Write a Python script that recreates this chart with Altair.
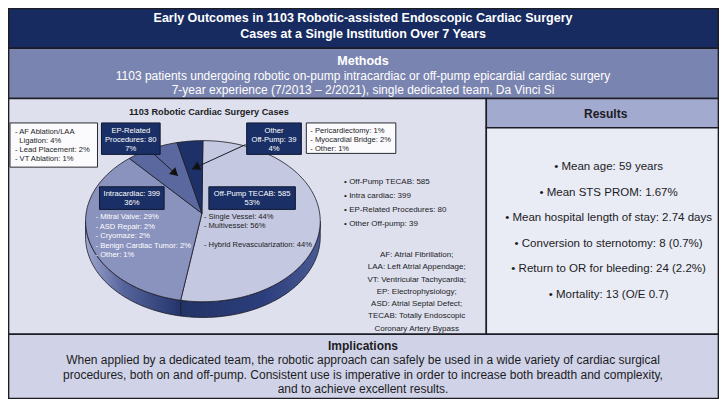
import math
import altair as alt
import pandas as pd

# ---------------- data ----------------
title_lines = ["Early Outcomes in 1103 Robotic-assisted Endoscopic Cardiac Surgery",
               "Cases at a Single Institution Over 7 Years"]
methods_head = "Methods"
methods_lines = ["1103 patients undergoing robotic on-pump intracardiac or off-pump epicardial cardiac surgery",
                 "7-year experience (7/2013 \u2013 2/2021), single dedicated team, Da Vinci Si"]
pie_title = "1103 Robotic Cardiac Surgery Cases"
categories = ["Off-Pump TECAB", "Intracardiac", "EP-Related Procedures", "Other Off-Pump"]
counts = [585, 399, 80, 39]
percents = [53, 36, 7, 4]
bullet_labels = ["Off-Pump TECAB", "Intra cardiac", "EP-Related Procedures", "Other Off-pump"]
ep_breakdown = ["- AF Ablation/LAA", "  Ligation: 4%", "- Lead Placement: 2%", "- VT Ablation: 1%"]
other_breakdown = ["- Pericardiectomy: 1%", "- Myocardial Bridge: 2%", "- Other: 1%"]
intra_breakdown = ["- Mitral Valve: 29%", "- ASD Repair: 2%", "- Cryomaze: 2%",
                   "- Benign Cardiac Tumor: 2%", "- Other: 1%"]
tecab_breakdown = ["- Single Vessel: 44%", "- Multivessel: 56%", "", "- Hybrid Revascularization: 44%"]
abbreviations = ["AF: Atrial Fibrillation;", "LAA: Left Atrial Appendage;", "VT: Ventricular Tachycardia;",
                 "EP: Electrophysiology;", "ASD: Atrial Septal Defect;", "TECAB: Totally Endoscopic",
                 "Coronary Artery Bypass"]
results_head = "Results"
results = ["Mean age: 59 years", "Mean STS PROM: 1.67%", "Mean hospital length of stay: 2.74 days",
           "Conversion to sternotomy: 8 (0.7%)", "Return to OR for bleeding: 24 (2.2%)",
           "Mortality: 13 (O/E 0.7)"]
impl_head = "Implications"
impl_lines = ["When applied by a dedicated team, the robotic approach can safely be used in a wide variety of cardiac surgical",
              "procedures, both on and off-pump. Consistent use is imperative in order to increase both breadth and complexity,",
              "and to achieve excellent results."]

# ---------------- layout / style ----------------
W, H = 711, 391
X0, X1, Y0, Y1 = 6, 721, 6, 404          # visible window of the 727x407 layout
FONT = "Liberation Sans, Arial, sans-serif"
NAVY = "#172b60"
BOXNAVY = "#1a2f66"
DARK = "#1c1c24"
xs = alt.Scale(domain=[X0, X1], range=[0, W], nice=False, zero=False)
ys = alt.Scale(domain=[Y0, Y1], range=[0, H], nice=False, zero=False)
SX, SY = W / (X1 - X0), H / (Y1 - Y0)

panels = pd.DataFrame([
    dict(x=0, x2=727, y=0, y2=47, fill=NAVY),
    dict(x=0, x2=727, y=47, y2=98, fill="#7a84b0"),
    dict(x=0, x2=487, y=98, y2=338, fill="#dee0ee"),
    dict(x=487, x2=727, y=98, y2=128, fill="#a3aacf"),
    dict(x=487, x2=727, y=128, y2=338, fill="#e9ebf5"),
    dict(x=0, x2=727, y=338, y2=407, fill="#d0d3e7"),
])
panel_layer = alt.Chart(panels).mark_rect(stroke=DARK, strokeWidth=1.5).encode(
    x=alt.X("x:Q", scale=xs, axis=None), x2="x2:Q",
    y=alt.Y("y:Q", scale=ys, axis=None), y2="y2:Q",
    fill=alt.Fill("fill:N", scale=None))
frame_layer = alt.Chart(pd.DataFrame([dict(x=X0 + 0.6, x2=X1 - 0.6, y=Y0 + 0.6, y2=Y1 - 0.6)])).mark_rect(
    fill=None, stroke=DARK, strokeWidth=1.5).encode(
    x=alt.X("x:Q", scale=xs, axis=None), x2="x2:Q",
    y=alt.Y("y:Q", scale=ys, axis=None), y2="y2:Q")

# pie geometry
CX, CY, RX, RY = 202, 223, 118, 82
AX, AY = 201, 215
DEPTH = 16
slice_colors = ["#c4c8e0", "#8a92be", "#5a689f", "#1d3168"]


def ell(theta, dy=0.0):
    t = math.radians(theta)
    return CX + RX * math.sin(t), CY - RY * math.cos(t) + dy


total = sum(counts)
bounds = []
start = 0.0
for c in counts:
    end = start + 360.0 * c / total
    bounds.append((start, end))
    start = end

rows = []
for cat, (a0, a1), col in zip(categories, bounds, slice_colors):
    pts = [(AX, AY)]
    n = max(3, int((a1 - a0) / 2) + 1)
    for i in range(n + 1):
        pts.append(ell(a0 + (a1 - a0) * i / n))
    pts.append((AX, AY))
    for k, (px, py) in enumerate(pts):
        rows.append(dict(s=cat, x=px, y=py, o=k, fill=col))
pie_df = pd.DataFrame(rows)


def rim(a0, a1, name):
    r = []
    n = max(3, int((a1 - a0) / 2) + 1)
    pts = [ell(a0 + (a1 - a0) * i / n) for i in range(n + 1)]
    pts += [ell(a1 - (a1 - a0) * i / n, DEPTH) for i in range(n + 1)]
    pts.append(pts[0])
    for k, (px, py) in enumerate(pts):
        r.append(dict(s=name, x=px, y=py, o=k))
    return pd.DataFrame(r)


tecab_end = bounds[0][1]
rim_right = rim(90, tecab_end, "rr")
rim_left = rim(tecab_end, 270, "rl")


def poly_layer(df, fill):
    return alt.Chart(df).mark_line(fill=fill, stroke=DARK, strokeWidth=0.8, strokeJoin="round").encode(
        x=alt.X("x:Q", scale=xs, axis=None), y=alt.Y("y:Q", scale=ys, axis=None),
        order="o:Q", detail="s:N")


rr_layer = poly_layer(rim_right, alt.Gradient(gradient="linear", x1=0, x2=1, y1=0, y2=0, stops=[
    alt.GradientStop(color="#223366", offset=0), alt.GradientStop(color="#2c3e7c", offset=0.6),
    alt.GradientStop(color="#4a5a94", offset=1)]))
rl_layer = poly_layer(rim_left, alt.Gradient(gradient="linear", x1=0, x2=1, y1=0, y2=0, stops=[
    alt.GradientStop(color="#a0a8d0", offset=0), alt.GradientStop(color="#56649b", offset=0.4),
    alt.GradientStop(color="#23346c", offset=1)]))
pie_layer = alt.Chart(pie_df).mark_line(stroke=DARK, strokeWidth=0.8, strokeJoin="round").encode(
    x=alt.X("x:Q", scale=xs, axis=None), y=alt.Y("y:Q", scale=ys, axis=None),
    order="o:Q", detail="s:N", fill=alt.Fill("fill:N", scale=None))

# label boxes
boxes = pd.DataFrame([
    dict(x=100, x2=159, y=123, y2=155, fill=BOXNAVY, stroke="#101830"),
    dict(x=246, x2=301, y=123, y2=155, fill=BOXNAVY, stroke="#101830"),
    dict(x=98, x2=163, y=188, y2=211, fill=BOXNAVY, stroke="#101830"),
    dict(x=208, x2=295, y=188, y2=211, fill=BOXNAVY, stroke="#101830"),
    dict(x=8, x2=96, y=123, y2=168, fill="#fbfbfd", stroke="#2a2a33"),
    dict(x=306, x2=396, y=123, y2=154, fill="#fbfbfd", stroke="#2a2a33"),
])
box_layer = alt.Chart(boxes).mark_rect(strokeWidth=1).encode(
    x=alt.X("x:Q", scale=xs, axis=None), x2="x2:Q",
    y=alt.Y("y:Q", scale=ys, axis=None), y2="y2:Q",
    fill=alt.Fill("fill:N", scale=None), stroke=alt.Stroke("stroke:N", scale=None))

# arrows
arrows = [((153, 155), (177, 177)), ((245, 145), (191, 170))]
arr_rows, head_rows = [], []
for (t0, t1) in arrows:
    arr_rows.append(dict(x=t0[0], y=t0[1], x2=t1[0], y2=t1[1]))
    dxc, dyc = (t1[0] - t0[0]) * SX, (t1[1] - t0[1]) * SY
    ang = math.degrees(math.atan2(dxc, -dyc)) % 360
    L = math.hypot(t1[0] - t0[0], t1[1] - t0[1])
    ux, uy = (t1[0] - t0[0]) / L, (t1[1] - t0[1]) / L
    head_rows.append(dict(x=t1[0] - 4 * ux, y=t1[1] - 4 * uy, a=ang))
arrow_layer = alt.Chart(pd.DataFrame(arr_rows)).mark_rule(color=DARK, strokeWidth=1).encode(
    x=alt.X("x:Q", scale=xs, axis=None), y=alt.Y("y:Q", scale=ys, axis=None), x2="x2:Q", y2="y2:Q")
head_layer = alt.Chart(pd.DataFrame(head_rows)).mark_point(
    shape="triangle-up", filled=True, color="#111", size=85, opacity=1).encode(
    x=alt.X("x:Q", scale=xs, axis=None), y=alt.Y("y:Q", scale=ys, axis=None),
    angle=alt.Angle("a:Q", scale=None))

# texts
T = []


def add(x, y, text, size, color, align="center", bold=False):
    indent = len(text) - len(text.lstrip(" "))
    T.append(dict(x=x + 2.2 * indent, y=y, text=text.lstrip(" "), size=size, color=color,
                  align=align, bold=bold))


SMALL = 7.6
for i, s in enumerate(title_lines):
    add(363, 16 + 16 * i, s, 12.5, "white", bold=True)
add(363, 60, methods_head, 12.5, "white", bold=True)
for i, s in enumerate(methods_lines):
    add(363, 75 + 14.5 * i, s, 12, "white")
add(208, 112, pie_title, 9.2, DARK, bold=True)

ep_lines = ["EP-Related", "Procedures: %d" % counts[2], "%d%%" % percents[2]]
ot_lines = ["Other", "Off-Pump: %d" % counts[3], "%d%%" % percents[3]]
for i, s in enumerate(ep_lines):
    add(129.5, 131 + 9.5 * i, s, SMALL, "white")
for i, s in enumerate(ot_lines):
    add(273.5, 131 + 9.5 * i, s, SMALL, "white")
for i, s in enumerate(["%s: %d" % (categories[1], counts[1]), "%d%%" % percents[1]]):
    add(130.5, 195 + 9.3 * i, s, SMALL, "white")
for i, s in enumerate(["%s: %d" % (categories[0], counts[0]), "%d%%" % percents[0]]):
    add(251.5, 195 + 9.3 * i, s, SMALL, "white")
for i, s in enumerate(ep_breakdown):
    add(13, 132 + 9.4 * i, s, SMALL, DARK, align="left")
for i, s in enumerate(other_breakdown):
    add(310, 131 + 9.2 * i, s, SMALL, DARK, align="left")
for i, s in enumerate(intra_breakdown):
    add(94, 219 + 9.6 * i, s, SMALL, "white", align="left")
for i, s in enumerate(tecab_breakdown):
    if s:
        add(203, 219 + 9.4 * i, s, SMALL, DARK, align="left")
for i, (lab, c) in enumerate(zip(bullet_labels, counts)):
    add(344, 183 + 14.3 * i, "\u2022 %s: %d" % (lab, c), 8, DARK, align="left")
for i, s in enumerate(abbreviations):
    add(417, 257.5 + 12.5 * i, s, 8, DARK)
add(607, 114, results_head, 12, DARK, bold=True)
for i, s in enumerate(results):
    add(610, 168 + 26 * i, "\u2022 " + s, 11.5, DARK)
add(363, 350, impl_head, 12, DARK, bold=True)
for i, s in enumerate(impl_lines):
    add(363, 364.5 + 14.8 * i, s, 12, DARK)

tdf = pd.DataFrame(T)
text_layers = []
for (align, bold), g in tdf.groupby(["align", "bold"]):
    text_layers.append(alt.Chart(g).mark_text(
        align=align, baseline="middle", font=FONT, fontWeight="bold" if bold else "normal").encode(
        x=alt.X("x:Q", scale=xs, axis=None), y=alt.Y("y:Q", scale=ys, axis=None),
        text="text:N", size=alt.Size("size:Q", scale=None), color=alt.Color("color:N", scale=None)))

chart = alt.layer(panel_layer, rr_layer, rl_layer, pie_layer, arrow_layer, head_layer, box_layer,
                  *text_layers, frame_layer).properties(
    width=W, height=H, padding=0, autosize="none", background="white"
).configure_view(stroke=None)

chart.save("out.html", embed_options={"renderer": "svg", "actions": False})
